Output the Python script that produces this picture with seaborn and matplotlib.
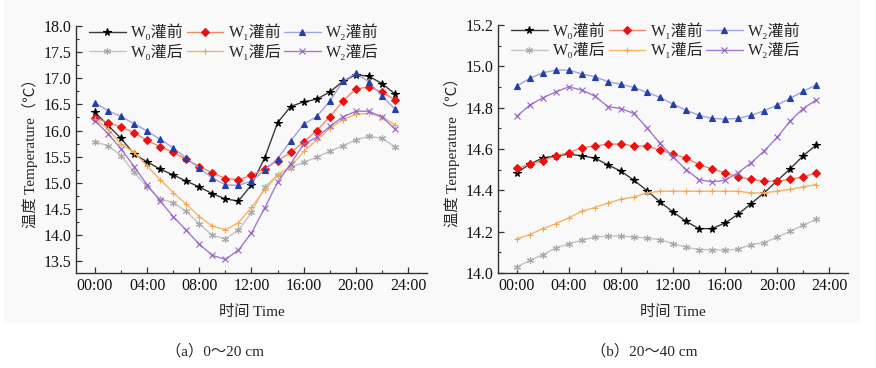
import numpy as np
import pandas as pd
import seaborn as sns
import matplotlib.pyplot as plt
from matplotlib.ticker import MultipleLocator, FixedLocator

sns.set_theme(style='ticks')
plt.rcParams['font.family'] = ['Liberation Serif', 'Noto Sans CJK SC', 'DejaVu Sans']
plt.rcParams['axes.unicode_minus'] = False

hours = list(range(24))
tick_pos = [0, 4, 8, 12, 16, 20, 24]
tick_labels = ['00:00', '04:00', '08:00', '12:00', '16:00', '20:00', '24:00']

# 0~20 cm
a_w0_pre = [16.35, 16.10, 15.85, 15.55, 15.40, 15.26, 15.15, 15.03, 14.92, 14.79, 14.69, 14.65,
            14.96, 15.47, 16.15, 16.46, 16.55, 16.60, 16.74, 16.94, 17.07, 17.04, 16.90, 16.70]
a_w1_pre = [16.24, 16.15, 16.07, 15.96, 15.81, 15.69, 15.58, 15.45, 15.31, 15.19, 15.08, 15.06,
            15.14, 15.27, 15.42, 15.58, 15.78, 16.00, 16.26, 16.56, 16.80, 16.83, 16.74, 16.59]
a_w2_pre = [16.53, 16.38, 16.27, 16.13, 15.99, 15.83, 15.67, 15.47, 15.28, 15.09, 14.96, 14.95,
            15.03, 15.24, 15.46, 15.80, 16.12, 16.27, 16.56, 16.94, 17.10, 16.93, 16.66, 16.41]
a_w0_post = [15.78, 15.71, 15.52, 15.20, 14.92, 14.69, 14.62, 14.45, 14.21, 13.99, 13.93, 14.09,
             14.43, 14.91, 15.15, 15.29, 15.39, 15.49, 15.60, 15.71, 15.82, 15.89, 15.85, 15.69]
a_w1_post = [16.22, 16.03, 15.74, 15.58, 15.32, 15.06, 14.81, 14.59, 14.35, 14.17, 14.10, 14.23,
             14.53, 14.86, 15.15, 15.31, 15.60, 15.81, 16.04, 16.21, 16.31, 16.33, 16.26, 16.11]
a_w2_post = [16.19, 15.94, 15.65, 15.31, 14.96, 14.65, 14.35, 14.09, 13.82, 13.61, 13.53, 13.71,
             14.04, 14.51, 15.01, 15.36, 15.74, 15.87, 16.08, 16.26, 16.37, 16.37, 16.26, 16.03]

# 20~40 cm
b_w0_pre = [14.486, 14.527, 14.557, 14.567, 14.575, 14.567, 14.556, 14.523, 14.493, 14.449, 14.399, 14.344,
            14.296, 14.250, 14.215, 14.215, 14.242, 14.284, 14.336, 14.388, 14.446, 14.504, 14.567, 14.619]
b_w1_pre = [14.506, 14.527, 14.543, 14.567, 14.583, 14.607, 14.614, 14.624, 14.624, 14.616, 14.614, 14.595,
            14.575, 14.557, 14.525, 14.504, 14.485, 14.465, 14.454, 14.444, 14.444, 14.454, 14.465, 14.485]
b_w2_pre = [14.905, 14.942, 14.969, 14.982, 14.982, 14.963, 14.950, 14.926, 14.913, 14.898, 14.874, 14.850,
            14.817, 14.788, 14.763, 14.748, 14.745, 14.748, 14.763, 14.785, 14.813, 14.845, 14.879, 14.910]
b_w0_post = [14.029, 14.061, 14.089, 14.121, 14.142, 14.158, 14.174, 14.179, 14.179, 14.174, 14.170, 14.162,
             14.142, 14.126, 14.113, 14.113, 14.110, 14.116, 14.137, 14.147, 14.174, 14.202, 14.231, 14.260]
b_w1_post = [14.166, 14.186, 14.215, 14.239, 14.267, 14.299, 14.317, 14.339, 14.357, 14.368, 14.388, 14.396,
             14.396, 14.396, 14.396, 14.396, 14.396, 14.396, 14.388, 14.388, 14.396, 14.405, 14.417, 14.428]
b_w2_post = [14.759, 14.813, 14.848, 14.877, 14.901, 14.885, 14.856, 14.805, 14.796, 14.772, 14.703, 14.627,
             14.562, 14.501, 14.452, 14.441, 14.449, 14.485, 14.533, 14.590, 14.656, 14.735, 14.796, 14.837]

# legend order column-wise: (W0 pre, W0 post), (W1 pre, W1 post), (W2 pre, W2 post)
labels = ['W₀灌前', 'W₀灌后', 'W₁灌前', 'W₁灌后', 'W₂灌前', 'W₂灌后']
styles = [
    dict(color='#3a3a3a', marker='*', mfc='black', mec='black', ms=5.5),
    dict(color='#c4c4c4', marker=(6, 2, 0), mfc='#a8a8a8', mec='#a8a8a8', ms=5),
    dict(color='#f08a6e', marker='D', mfc='#ee1010', mec='#ee1010', ms=3.8),
    dict(color='#f5b565', marker='+', mfc='#f0a850', mec='#f0a850', ms=5),
    dict(color='#9fa3e0', marker='^', mfc='#2340a8', mec='#2340a8', ms=4.8),
    dict(color='#a27ad0', marker='x', mfc='#9560c8', mec='#9560c8', ms=4.5),
]

fig = plt.figure(figsize=(8.76, 3.68), dpi=100)
fig.patches.append(plt.Rectangle((0.004, 0.122), 0.978, 0.878, transform=fig.transFigure,
                                 facecolor='#f9f9f9', edgecolor='none', zorder=-10))
ax1 = fig.add_axes([0.0868, 0.258, 0.4006, 0.671])
ax2 = fig.add_axes([0.5685, 0.258, 0.3995, 0.674])

panels = [
    (ax1, [a_w0_pre, a_w0_post, a_w1_pre, a_w1_post, a_w2_pre, a_w2_post], (13.27, 18.0), 0.5, 0.25),
    (ax2, [b_w0_pre, b_w0_post, b_w1_pre, b_w1_post, b_w2_pre, b_w2_post], (14.0, 15.2), 0.2, 0.1),
]

for ax, series, ylim, major, minor in panels:
    ax.set_facecolor('none')
    for vals, lab, st in zip(series, labels, styles):
        sns.lineplot(x=hours, y=vals, ax=ax, label=lab, lw=1.0, color=st['color'],
                     marker=st['marker'], markerfacecolor=st['mfc'], markeredgecolor=st['mec'],
                     markersize=st['ms'], markeredgewidth=0.8)
    ax.set_xlim(-1.45, 25.45)
    ax.set_ylim(*ylim)
    ax.xaxis.set_major_locator(FixedLocator(tick_pos))
    ax.set_xticklabels(tick_labels)
    ax.xaxis.set_minor_locator(MultipleLocator(2))
    ax.yaxis.set_major_locator(MultipleLocator(major))
    ax.yaxis.set_minor_locator(MultipleLocator(minor))
    ax.yaxis.set_major_formatter(plt.FormatStrFormatter('%.1f'))
    if ylim[0] < 13.5:
        ax.set_yticks(np.arange(13.5, 18.01, 0.5))
    ax.tick_params(which='both', direction='in', labelsize=11.5, color='#333333', labelcolor='#111111')
    ax.tick_params(which='major', length=4, width=0.9)
    ax.tick_params(which='minor', length=2.5, width=0.8)
    for s in ['top', 'right']:
        ax.spines[s].set_visible(False)
    for s in ['left', 'bottom']:
        ax.spines[s].set_color('#333333')
        ax.spines[s].set_linewidth(1.0)
    ax.set_xlabel('时间 Time', fontsize=11, labelpad=8)
    ax.set_ylabel('温度 Temperature（℃）', fontsize=11, labelpad=4)
    ax.legend(ncol=3, loc='upper left', bbox_to_anchor=(0.01, 1.045), frameon=False,
              fontsize=11.5, handlelength=2.3, handletextpad=0.35, columnspacing=0.15,
              labelspacing=0.2, borderaxespad=0.2)

fig.text(0.245, 0.045, '（a）0～20 cm', ha='center', va='center', fontsize=11)
fig.text(0.735, 0.045, '（b）20～40 cm', ha='center', va='center', fontsize=11)

fig.savefig('out.png', dpi=100)
